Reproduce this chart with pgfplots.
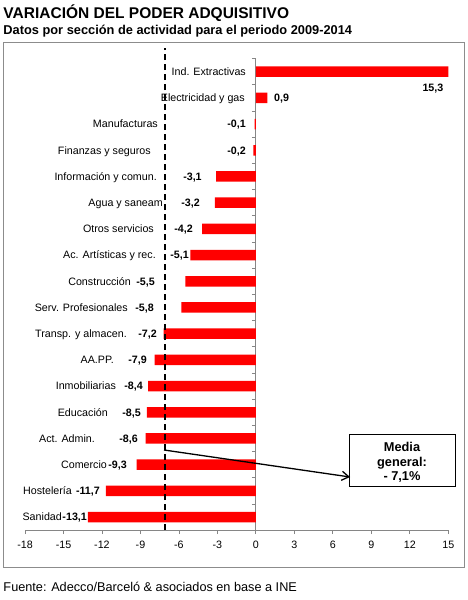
\documentclass[border=0pt]{standalone}
\usepackage{pgfplots}
\pgfplotsset{compat=1.18}
\usepackage{pgfplotstable}
\usepackage{fontspec}
\setmainfont{Liberation Sans}
\usetikzlibrary{arrows.meta}

\definecolor{barred}{RGB}{255,0,0}
\definecolor{axgray}{RGB}{134,134,134}
\definecolor{framegray}{RGB}{140,140,140}

\newcommand\labfont{\fontsize{10.7bp}{12.8bp}\selectfont}

\pgfplotstableread{
y val
17 15.3
16 0.9
15 -0.1
14 -0.2
13 -3.1
12 -3.2
11 -4.2
10 -5.1
9 -5.5
8 -5.8
7 -7.2
6 -7.9
5 -8.4
4 -8.5
3 -8.6
2 -9.3
1 -11.7
0 -13.1
}\datatab

\tikzset{
  lab/.style={anchor=east, inner sep=0pt, text height=7.7bp, text depth=0pt, font=\labfont},
  val/.style={anchor=east, inner sep=0pt, text height=7.7bp, text depth=0pt, font=\labfont\bfseries},
}

\begin{document}
\begin{tikzpicture}[x=1bp,y=1bp]
\useasboundingbox (0,0) rectangle (468,600);
\draw[framegray, line width=1bp] (3.5,32.5) rectangle (464.5,557.5);
\node[anchor=base west, inner sep=0, font=\bfseries\fontsize{15.5bp}{18bp}\selectfont] at (3.3,581) {VARIACIÓN DEL PODER ADQUISITIVO};
\node[anchor=base west, inner sep=0, font=\bfseries\fontsize{12.8bp}{15bp}\selectfont] at (3.3,565.5) {Datos por sección de actividad para el periodo 2009-2014};
\node[anchor=base west, inner sep=0, font=\fontsize{12.7bp}{15bp}\selectfont] at (3.3,8.5) {Fuente: Adecco/Barceló \& asociados en base a INE};

\begin{axis}[
  at={(25bp,69.8bp)}, anchor=south west,
  width=423.3bp, height=471.6bp, scale only axis,
  xmin=-18, xmax=15, ymin=-0.5, ymax=17.5,
  axis x line=bottom, axis y line=middle,
  axis line style={axgray, line width=0.8bp, -},
  hide obscured x ticks=false,
  clip mode=individual,
  xtick={-18,-15,...,15},
  xticklabels={-18,-15,-12,-9,-6,-3,0,3,6,9,12,15},
  ytick={-0.5,0.5,...,17.5},
  yticklabels={},
  tick align=outside,
  major tick length=4bp,
  tick style={axgray, line width=0.8bp},
  xticklabel style={font=\labfont, inner sep=0pt, text height=7.7bp, text depth=0pt, yshift=-6bp},
]
\addplot[xbar, fill=barred, draw=none, bar width=10.5bp, bar shift=0pt] table[x=val, y=y]{\datatab};

\draw[black, line width=2.2bp, dash pattern=on 6bp off 4bp] (axis cs:-7.1,-0.5) -- (axis cs:-7.1,17.9);

\node[lab] at (axis cs:-0.77,17) {Ind. Extractivas};
\node[lab] at (axis cs:-0.85,16) {Electricidad y gas};
\node[lab] at (axis cs:-7.63,15) {Manufacturas};
\node[lab] at (axis cs:-8.18,14) {Finanzas y seguros};
\node[lab] at (axis cs:-7.71,13) {Información y comun.};
\node[lab] at (axis cs:-7.24,12) {Agua y saneam};
\node[lab] at (axis cs:-7.94,11) {Otros servicios};
\node[lab] at (axis cs:-7.79,10) {Ac. Artísticas y rec.};
\node[lab] at (axis cs:-9.74,9) {Construcción};
\node[lab] at (axis cs:-9.97,8) {Serv. Profesionales};
\node[lab] at (axis cs:-10.05,7) {Transp. y almacen.};
\node[lab] at (axis cs:-11.06,6) {AA.PP.};
\node[lab] at (axis cs:-10.90,5) {Inmobiliarias};
\node[lab] at (axis cs:-11.53,4) {Educación};
\node[lab] at (axis cs:-12.54,3) {Act. Admin.};
\node[lab] at (axis cs:-11.60,2) {Comercio};
\node[lab] at (axis cs:-14.33,1) {Hostelería};
\node[lab] at (axis cs:-15.11,0) {Sanidad};

\node[val, anchor=center] at (axis cs:13.80,16.38) {15,3};
\node[val, anchor=west] at (axis cs:1.41,16) {0,9};
\node[val] at (axis cs:-0.77,15) {-0,1};
\node[val] at (axis cs:-0.77,14) {-0,2};
\node[val] at (axis cs:-4.21,13) {-3,1};
\node[val] at (axis cs:-4.36,12) {-3,2};
\node[val] at (axis cs:-4.90,11) {-4,2};
\node[val] at (axis cs:-5.21,10) {-5,1};
\node[val] at (axis cs:-7.86,9) {-5,5};
\node[val] at (axis cs:-7.94,8) {-5,8};
\node[val] at (axis cs:-7.71,7) {-7,2};
\node[val] at (axis cs:-8.49,6) {-7,9};
\node[val] at (axis cs:-8.80,5) {-8,4};
\node[val] at (axis cs:-8.96,4) {-8,5};
\node[val] at (axis cs:-9.19,3) {-8,6};
\node[val] at (axis cs:-10.05,2) {-9,3};
\node[val] at (axis cs:-12.15,1) {-11,7};
\node[val] at (axis cs:-13.16,0) {-13,1};
\end{axis}

\draw[black, line width=1bp] (349.5,113) rectangle (455,165);
\node[align=center, inner sep=0, font=\bfseries\fontsize{12.8bp}{14.5bp}\selectfont] at (402,137.5) {Media\\general:\\- 7,1\%};
\draw[black, line width=1.3bp, -{Straight Barb[length=7bp,width=9bp]}] (164,150) -- (350,123);
\end{tikzpicture}
\end{document}
